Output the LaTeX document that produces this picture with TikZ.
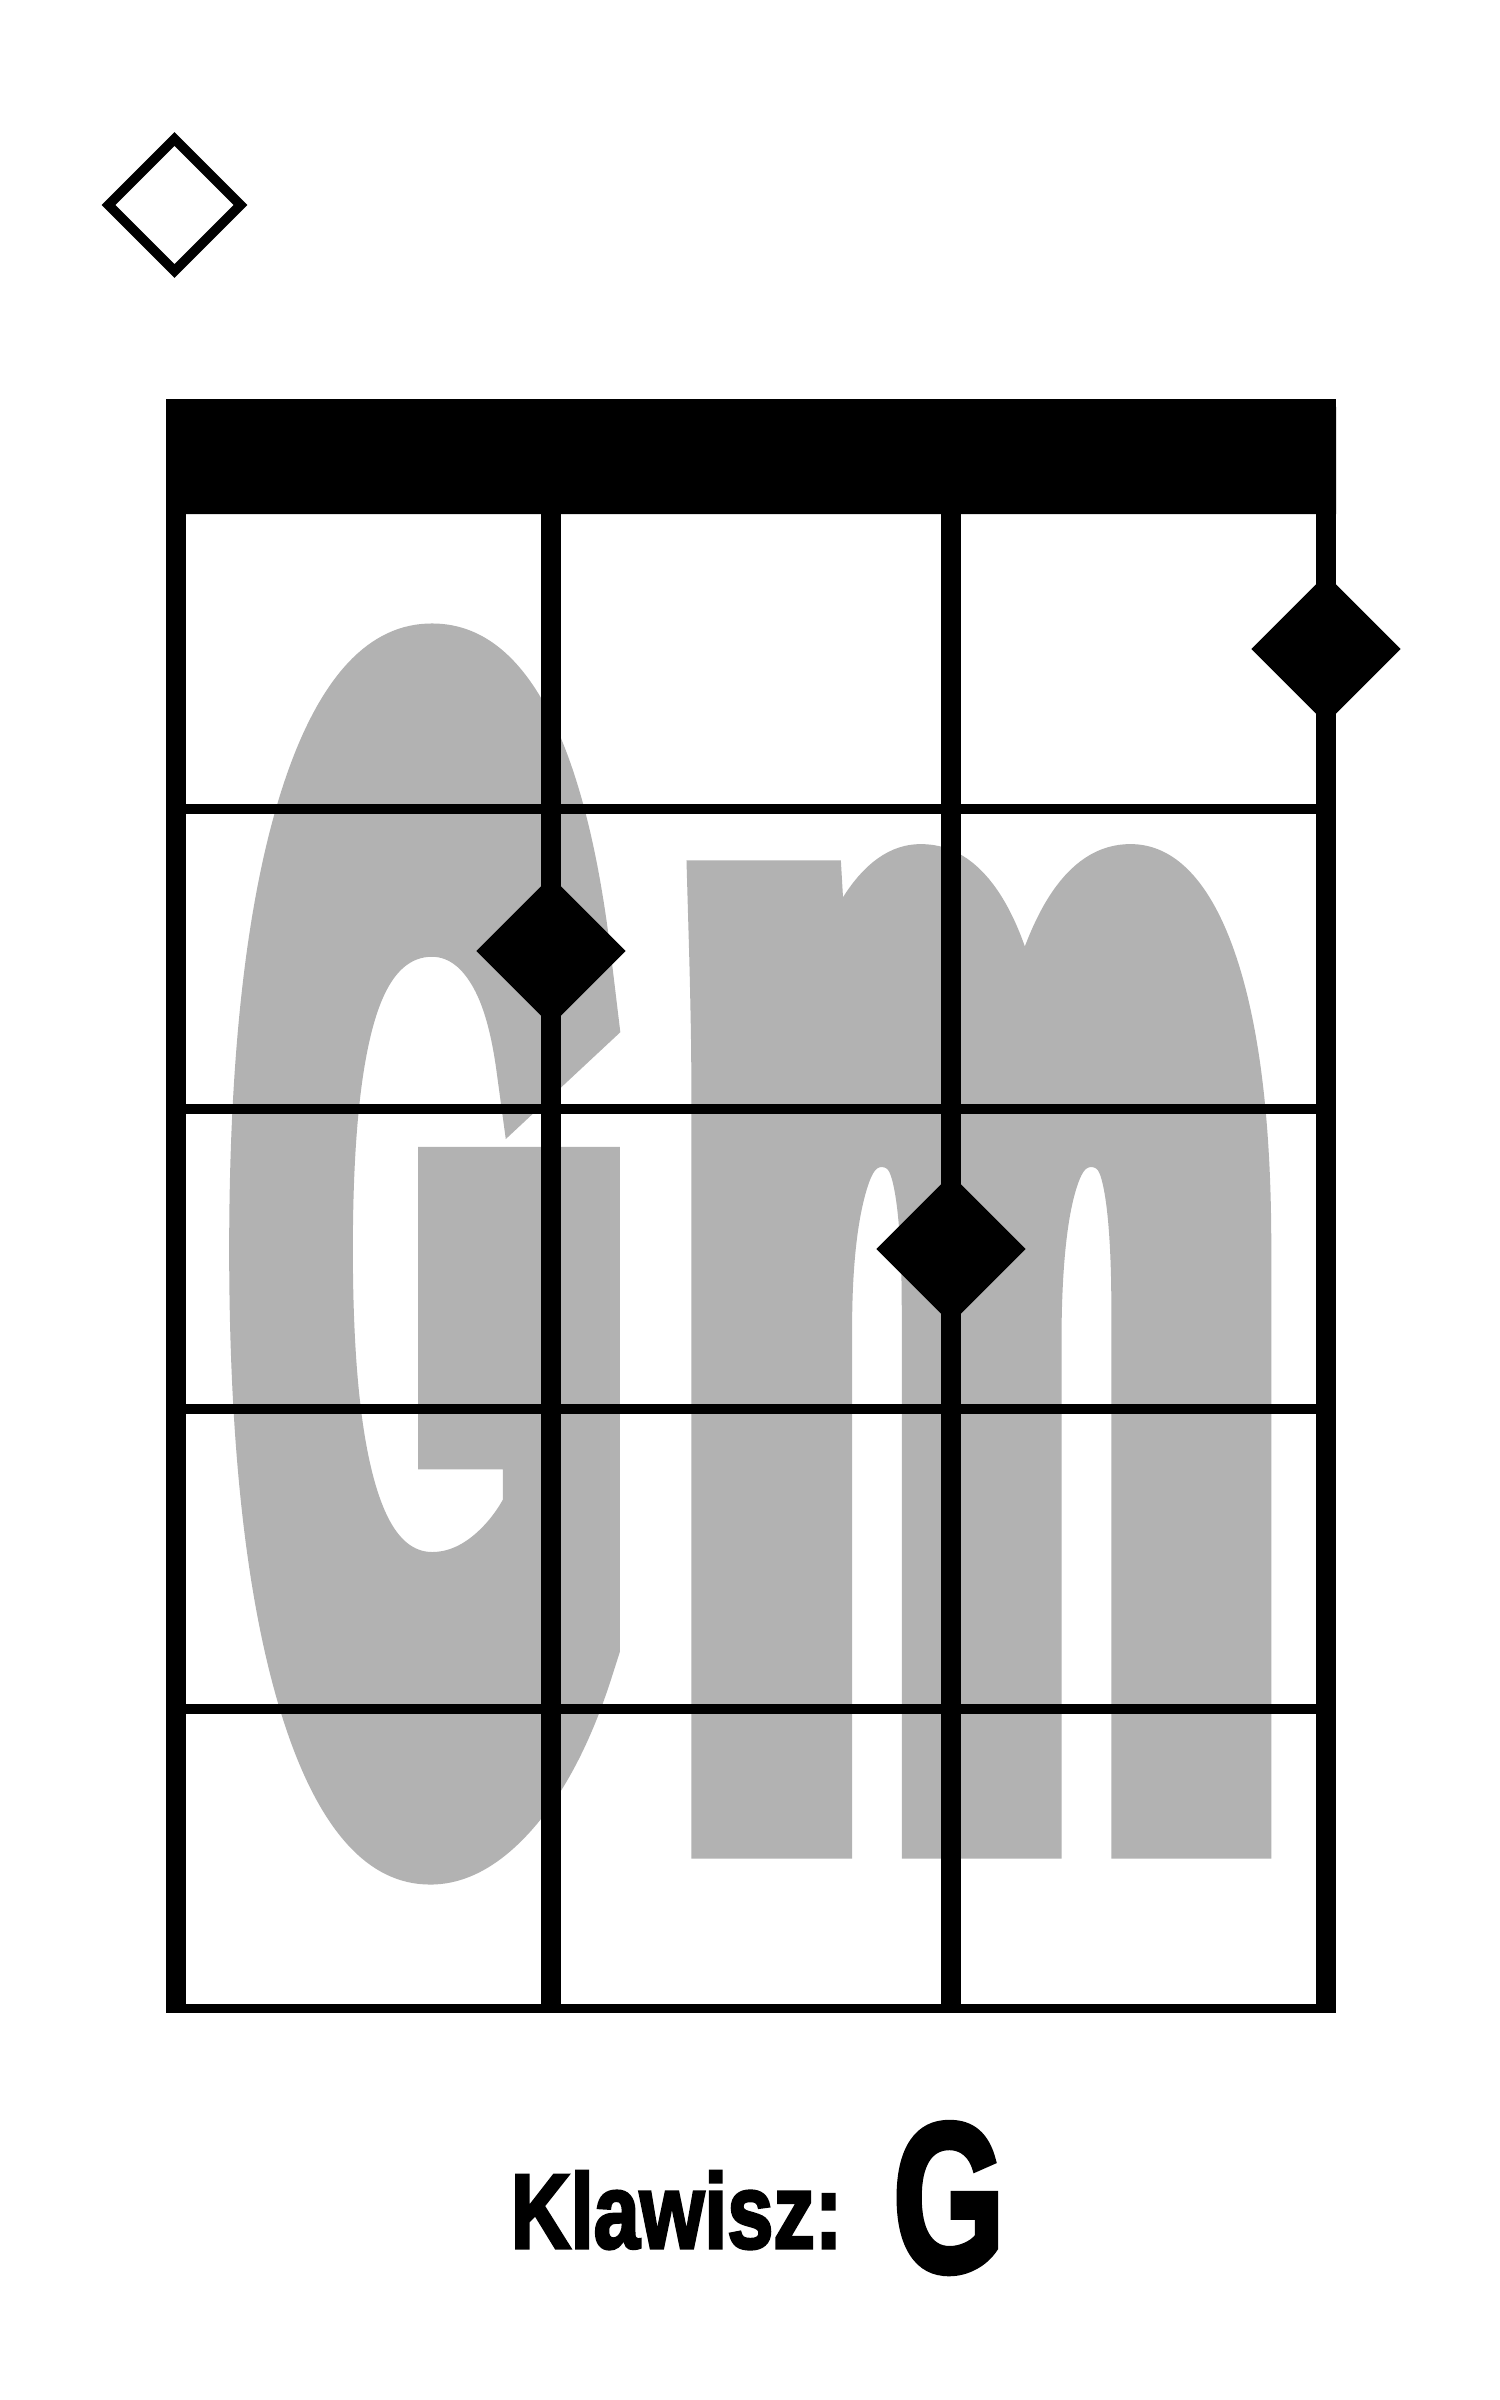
\documentclass[tikz,border=0pt]{standalone}
\usepackage{fontspec}
\usepackage{graphicx}
\usetikzlibrary{shapes.geometric}
\newfontfamily\bigfont{Liberation Sans}[BoldFeatures={FakeBold=10}]
\newfontfamily\labelfont{Liberation Sans}[BoldFeatures={FakeBold=3}]
\definecolor{chordgrey}{gray}{0.7}
\tikzset{
  fingerdot/.style={diamond, fill=black, draw=none, minimum size=37.5pt, inner sep=0pt},
  opendot/.style={diamond, draw=black, fill=white, line width=2.4pt, line join=miter, minimum size=34pt, inner sep=0pt},
  gridpart/.style={fill=black}
}
\begin{document}
\begin{tikzpicture}[x=0.25pt,y=-0.25pt]
\useasboundingbox (0,0) rectangle (1500,2400);
\fill[white] (0,0) rectangle (1500,2400);
% big grey chord name
\node[anchor=base west, inner sep=0pt, text=chordgrey,
      font=\bigfont\bfseries\fontsize{100pt}{100pt}\selectfont] (chord) at (233,1779)
  {\raisebox{-3pt}{\scalebox{1.26}[3.90]{G}}\hspace{13.1pt}\scalebox{1.69}[3.97]{m}};
% nut
\fill[gridpart] (166,514) [rounded corners=2pt] -- (166,399) -- (1336,399) [sharp corners] -- (1336,514) -- cycle;
% outer strings
\fill[gridpart] (166,399) rectangle (186,2012.5);
\fill[gridpart] (1316,399) rectangle (1336,2012.5);
% inner strings
\fill[gridpart] (541,514) rectangle (561,2008);
\fill[gridpart] (941,514) rectangle (961,2008);
% frets
\foreach \y in {809,1109,1409,1709} {
  \fill[gridpart] (186,\y-4.75) rectangle (1316,\y+4.75);
}
\fill[gridpart] (166,2003.5) rectangle (1336,2012.5);
% finger positions
\node[fingerdot] (d1) at (1326,649) {};
\node[fingerdot] (d2) at (551,951) {};
\node[fingerdot] (d3) at (951,1249) {};
% open string marker
\node[opendot] (open) at (174.5,205) {};
% key label
\node[anchor=base west, inner sep=0pt, font=\labelfont\bfseries\fontsize{26.5pt}{26.5pt}\selectfont] (key) at (510,2248)
  {\scalebox{0.782}[1]{Klawisz:}};
\node[anchor=base west, inner sep=0pt, font=\labelfont\bfseries\fontsize{53pt}{53pt}\selectfont] (keyG) at (892,2271)
  {\scalebox{0.68}[1]{G}};
\end{tikzpicture}
\end{document}
